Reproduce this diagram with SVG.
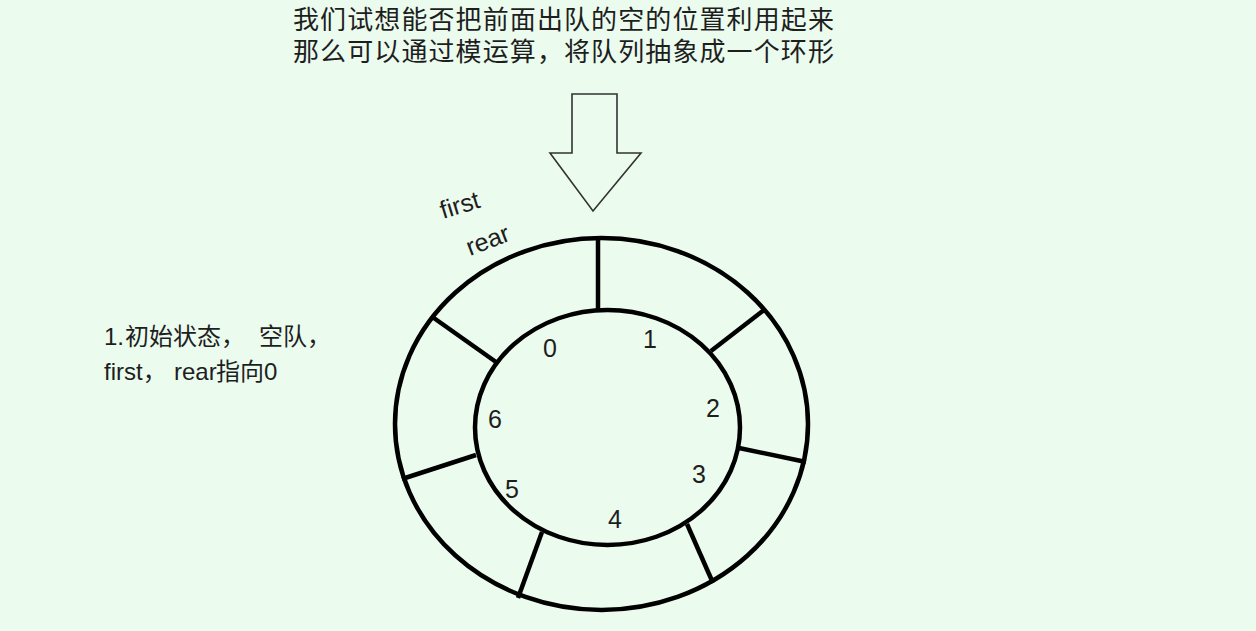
<svg xmlns="http://www.w3.org/2000/svg" width="1256" height="631" viewBox="0 0 1256 631">
<style>
.t{font-family:"Liberation Sans","Noto Sans CJK SC",sans-serif;fill:#1e1e1e}
.cjk{font-family:"Noto Sans CJK SC","Liberation Sans",sans-serif;fill:#1e1e1e;font-size:26px;letter-spacing:1.1px}
.ring{fill:none;stroke:#000;stroke-width:4.5}
.sp{stroke:#000;stroke-width:4.5;stroke-linecap:butt}
.num{font-size:25px}
</style>
<rect width="1256" height="631" fill="#ebfbee"/>
<g id="title">
<text class="cjk" x="293" y="29">我们试想能否把前面出队的空的位置利用起来</text>
<text class="cjk" x="293" y="61">那么可以通过模运算，将队列抽象成一个环形</text>
</g>
<g id="arrow">
<path d="M572,94 H617 V153 H641 L593,211 L550,153 H572 Z" fill="none" stroke="#333" stroke-width="1.6" stroke-linejoin="miter"/>
</g>
<g id="note">
<text class="t" font-size="24" y="345"><tspan x="104">1.</tspan><tspan x="125">初始状态，</tspan><tspan x="259">空队，</tspan></text>
<text class="t" font-size="24" y="380"><tspan x="104">first，</tspan><tspan x="174">rear</tspan><tspan x="216">指向0</tspan></text>
</g>
<g id="pointers">
<text class="t" font-size="25" transform="translate(443,219) rotate(-17)">first</text>
<text class="t" font-size="25" transform="translate(470,256) rotate(-21)">rear</text>
</g>
<g id="ring">
<ellipse class="ring" cx="601.5" cy="424" rx="206.5" ry="186"/>
<ellipse class="ring" cx="607.5" cy="427.5" rx="132.5" ry="117.5"/>
</g>
<g id="connectors">
<line class="sp" x1="598" y1="236" x2="598" y2="312"/>
<line class="sp" x1="764" y1="310" x2="711" y2="351"/>
<line class="sp" x1="739" y1="448" x2="806" y2="462"/>
<line class="sp" x1="687" y1="524" x2="713" y2="583"/>
<line class="sp" x1="542" y1="532" x2="518" y2="598"/>
<line class="sp" x1="476" y1="455" x2="402" y2="479"/>
<line class="sp" x1="496" y1="362" x2="431" y2="316"/>
</g>
<g id="labels" class="t num" text-anchor="middle">
<text x="550" y="357">0</text>
<text x="650" y="348">1</text>
<text x="713" y="417">2</text>
<text x="699" y="483">3</text>
<text x="615" y="528">4</text>
<text x="512" y="498">5</text>
<text x="495" y="428">6</text>
</g>
</svg>
